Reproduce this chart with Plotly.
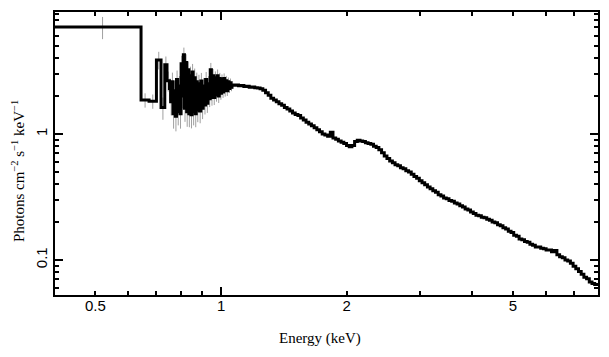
import math
import plotly.graph_objects as go

# ---- data: bin lower edges (keV), flux (photons cm^-2 s^-1 keV^-1), relative errors ----
e_lo_soft = [0.397, 0.643, 0.672, 0.700, 0.718, 0.733, 0.742,
             0.752, 0.757, 0.762, 0.767, 0.772, 0.777, 0.782, 0.787, 0.792, 0.797,
             0.802, 0.807, 0.812, 0.817, 0.822, 0.827, 0.832, 0.837, 0.842, 0.847,
             0.852, 0.857, 0.862, 0.867, 0.872, 0.877, 0.882, 0.888, 0.894, 0.900,
             0.906, 0.912, 0.918, 0.924, 0.930, 0.936, 0.942, 0.948, 0.954, 0.960,
             0.966, 0.972, 0.978, 0.984, 0.990, 0.996, 1.002, 1.008, 1.014, 1.020,
             1.026, 1.032, 1.038, 1.044, 1.050, 1.056, 1.062]
f_soft = [7.07, 1.86, 1.82, 3.87, 1.62, 3.55, 2.65,
          2.30, 1.80, 2.60, 1.45, 2.20, 1.38, 2.70, 1.50, 2.40, 1.45,
          3.60, 2.00, 4.25, 1.60, 3.70, 1.50, 3.24, 1.45, 2.90, 1.42,
          3.10, 1.50, 2.80, 1.45, 2.60, 1.55, 2.50, 1.52, 2.63, 1.60,
          2.40, 1.70, 2.70, 1.75, 2.50, 1.90, 3.24, 1.95, 2.90, 1.95,
          2.80, 2.05, 2.90, 2.00, 2.75, 2.10, 2.70, 2.15, 2.75, 2.20,
          2.65, 2.20, 2.60, 2.30, 2.55, 2.35, 2.45]
err_soft = [0.20, 0.13, 0.13, 0.16, 0.20, 0.16, 0.18,
            0.20, 0.22, 0.18, 0.24, 0.20, 0.24, 0.18, 0.22, 0.20, 0.24,
            0.16, 0.20, 0.14, 0.22, 0.16, 0.24, 0.16, 0.22, 0.18, 0.22,
            0.16, 0.22, 0.18, 0.22, 0.18, 0.20, 0.18, 0.20, 0.16, 0.18,
            0.16, 0.16, 0.15, 0.16, 0.15, 0.14, 0.13, 0.14, 0.13, 0.13,
            0.12, 0.12, 0.12, 0.12, 0.11, 0.11, 0.10, 0.10, 0.10, 0.10,
            0.09, 0.09, 0.08, 0.08, 0.08, 0.07, 0.07]

e_lo_hard = [1.069, 1.085, 1.101, 1.117, 1.134, 1.151, 1.168, 1.186, 1.204,
             1.222, 1.240, 1.259, 1.278, 1.297, 1.316, 1.336, 1.356, 1.376, 1.397,
             1.418, 1.439, 1.461, 1.483, 1.505, 1.528, 1.551, 1.574, 1.598, 1.622,
             1.646, 1.671, 1.696, 1.721, 1.747, 1.773, 1.800, 1.827, 1.854, 1.882,
             1.910, 1.939, 1.968, 1.998, 2.028, 2.058, 2.089, 2.120, 2.152, 2.184,
             2.217, 2.250, 2.284, 2.318, 2.353, 2.388, 2.424, 2.460, 2.497, 2.535,
             2.573, 2.611, 2.650, 2.690, 2.730, 2.771, 2.813, 2.855, 2.898, 2.941,
             2.985, 3.030, 3.075, 3.122, 3.168, 3.216, 3.264, 3.313, 3.363, 3.413,
             3.464, 3.516, 3.569, 3.622, 3.677, 3.732, 3.788, 3.844, 3.902, 3.960,
             4.020, 4.080, 4.141, 4.203, 4.266, 4.330, 4.395, 4.461, 4.528, 4.596,
             4.665, 4.735, 4.806, 4.878, 4.951, 5.025, 5.101, 5.177, 5.255, 5.334,
             5.414, 5.495, 5.577, 5.661, 5.746, 5.832, 5.920, 6.008, 6.099, 6.190,
             6.283, 6.377, 6.473, 6.570, 6.668, 6.768, 6.870, 6.973, 7.078, 7.184,
             7.292, 7.401, 7.512, 7.625, 7.739, 7.855]
f_hard = [2.44, 2.45, 2.41, 2.42, 2.38, 2.39, 2.35, 2.36, 2.33,
          2.32, 2.29, 2.22, 2.12, 2.03, 1.92, 1.86, 1.80, 1.74, 1.69,
          1.62, 1.58, 1.52, 1.47, 1.43, 1.40, 1.34, 1.29, 1.24, 1.20,
          1.16, 1.12, 1.08, 1.04, 1.00, 0.98, 0.96, 1.03, 0.93, 0.91,
          0.88, 0.86, 0.84, 0.81, 0.79, 0.81, 0.87, 0.89, 0.88, 0.87,
          0.85, 0.84, 0.83, 0.80, 0.78, 0.75, 0.71, 0.67, 0.64, 0.61,
          0.59, 0.57, 0.56, 0.54, 0.53, 0.51, 0.50, 0.48, 0.46, 0.445,
          0.425, 0.41, 0.395, 0.38, 0.368, 0.354, 0.344, 0.330, 0.322, 0.311,
          0.306, 0.297, 0.292, 0.283, 0.278, 0.269, 0.263, 0.254, 0.249, 0.240,
          0.234, 0.226, 0.224, 0.218, 0.216, 0.210, 0.207, 0.200, 0.197, 0.190,
          0.187, 0.180, 0.176, 0.169, 0.165, 0.157, 0.154, 0.147, 0.145, 0.140,
          0.138, 0.133, 0.131, 0.127, 0.127, 0.124, 0.123, 0.120, 0.120, 0.116,
          0.119, 0.110, 0.106, 0.104, 0.100, 0.098, 0.094, 0.089, 0.085, 0.081,
          0.077, 0.073, 0.071, 0.067, 0.065, 0.064]
E_MAX = 8.0

x_range_keV = [0.4, 8.0]
y_range_log = [-1.278, 0.968]
x_label_vals = [0.5, 1, 2, 5]
x_label_text = ["0.5", "1", "2", "5"]
x_major = [1]
x_minor = [0.4, 0.5, 0.6, 0.7, 0.8, 0.9, 2, 3, 4, 5, 6, 7, 8]
y_major = [0.1, 1]
y_major_text = ["0.1", "1"]
y_minor = [0.06, 0.07, 0.08, 0.09, 0.2, 0.3, 0.4, 0.5, 0.6, 0.7, 0.8, 0.9,
           2, 3, 4, 5, 6, 7, 8, 9]

# ---- build ----
edges = e_lo_soft + e_lo_hard + [E_MAX]
flux = f_soft + f_hard
x_step = edges
y_step = flux + [flux[-1]]

soft_edges = e_lo_soft + [e_lo_hard[0]]
soft_centers = [(a + b) / 2 for a, b in zip(soft_edges[:-1], soft_edges[1:])]
soft_err = [f * r for f, r in zip(f_soft, err_soft)]

tick_font = dict(family="Liberation Sans, Arial, sans-serif", size=15, color="black")
serif = "Liberation Serif, Times New Roman, serif"

fig = go.Figure()
# gray error bars on the primary (lower) layer
fig.add_trace(go.Scatter(
    x=soft_centers, y=f_soft, mode="markers", xaxis="x",
    marker=dict(size=1, color="rgba(0,0,0,0)"),
    error_y=dict(type="data", array=soft_err, color="#a0a0a0", thickness=1, width=0),
    hoverinfo="skip"))
# black step spectrum on the overlay layer (drawn on top)
fig.add_trace(go.Scatter(
    x=x_step, y=y_step, mode="lines", xaxis="x2",
    line=dict(shape="hv", color="black", width=3, simplify=False)))

xr = [math.log10(v) for v in x_range_keV]
fig.update_layout(
    width=609, height=357,
    margin=dict(l=55, r=11, t=12, b=62),
    plot_bgcolor="white", paper_bgcolor="white",
    showlegend=False,
    xaxis=dict(type="log", range=xr, showline=True, linecolor="black", linewidth=2,
               mirror="ticks", ticks="inside", tickvals=x_major, ticktext=[" "],
               ticklen=8, tickwidth=1.5, tickcolor="black", showgrid=False, zeroline=False,
               automargin=False,
               minor=dict(tickmode="array", tickvals=x_minor, ticks="inside", ticklen=4,
                          tickwidth=1.5, tickcolor="black", showgrid=False)),
    xaxis2=dict(type="log", range=xr, overlaying="x", side="bottom", anchor="y",
                showline=False, showgrid=False, zeroline=False, ticks="", automargin=False,
                tickvals=x_label_vals, ticktext=x_label_text, tickfont=tick_font),
    yaxis=dict(type="log", range=y_range_log, showline=True, linecolor="black", linewidth=2,
               mirror="ticks", ticks="inside", tickvals=y_major, ticktext=y_major_text,
               tickangle=-90, ticklen=8, tickwidth=1.5, tickcolor="black",
               tickfont=tick_font, showgrid=False, zeroline=False, automargin=False,
               minor=dict(tickmode="array", tickvals=y_minor, ticks="inside", ticklen=4,
                          tickwidth=1.5, tickcolor="black", showgrid=False)),
    annotations=[
        dict(text="Energy (keV)", xref="paper", yref="paper", x=(320 - 55) / 543,
             y=(295 - 338) / 283, xanchor="center", yanchor="middle", showarrow=False,
             font=dict(family=serif, size=15, color="black")),
        dict(text="Photons cm<sup>−2</sup> s<sup>−1</sup> keV<sup>−1</sup>", xref="paper",
             yref="paper", x=(18 - 55) / 543, y=(295 - 171) / 283, textangle=-90,
             xanchor="center", yanchor="middle", showarrow=False,
             font=dict(family=serif, size=15, color="black")),
    ],
)
fig.write_html("out.html", config={"displayModeBar": False},
               post_script="document.body.style.margin='0';")
